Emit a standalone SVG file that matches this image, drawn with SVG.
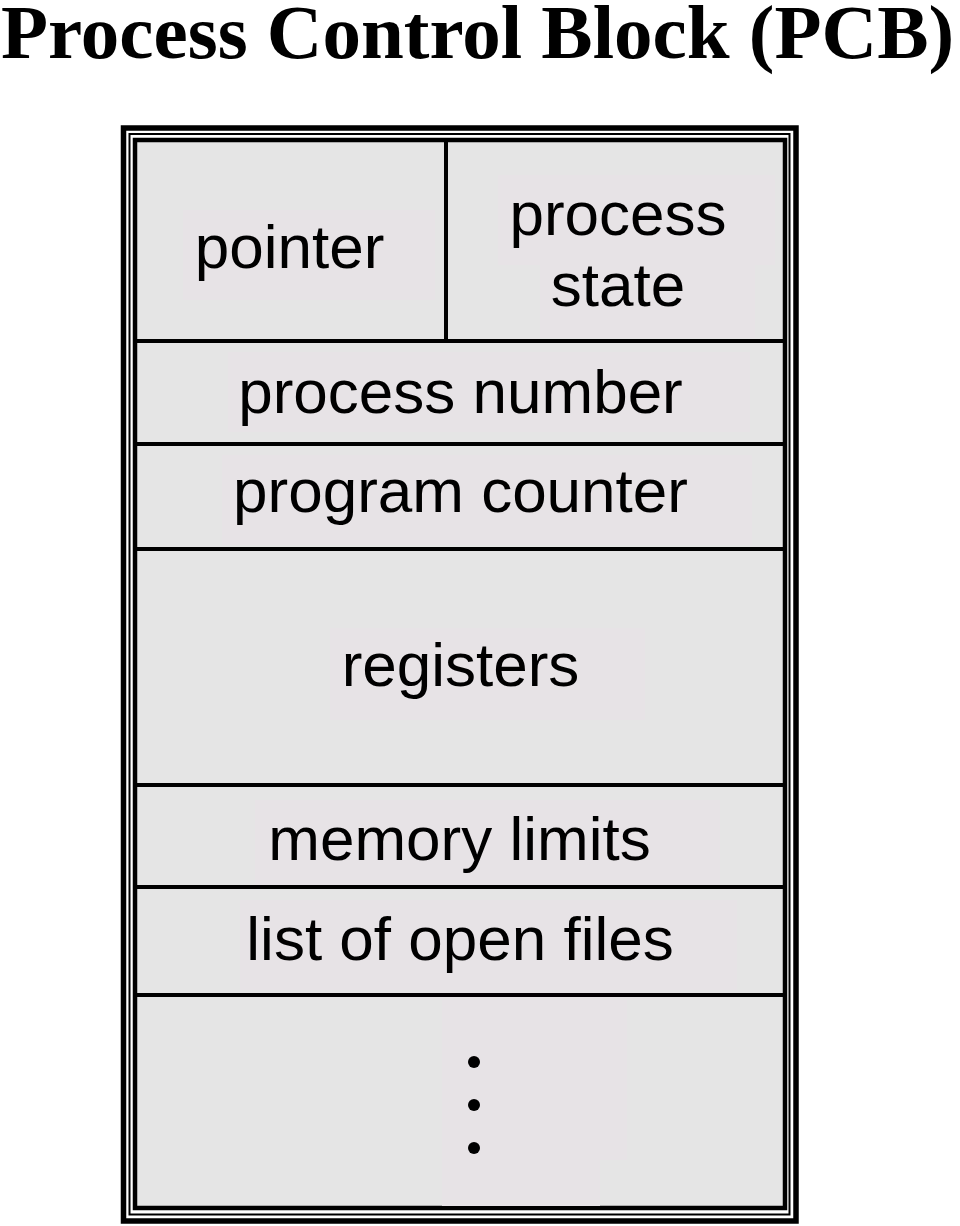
<svg xmlns="http://www.w3.org/2000/svg" width="960" height="1226" viewBox="0 0 960 1226">
  <style>
    .title { font-family: "Liberation Serif", "Times New Roman", serif; font-weight: bold; font-size: 77px; fill: #000; }
    .lbl { font-family: "Liberation Sans", Arial, sans-serif; font-size: 62px; fill: #000; text-anchor: middle; }
    .hl { fill: #e7e3e6; }
    .div { stroke: #000; stroke-width: 4; fill: none; }
  </style>
  <rect x="0" y="0" width="960" height="1226" fill="#fff"/>
  <text class="title" x="1" y="58">Process Control Block (PCB)</text>

  <g id="frame">
    <rect x="123.5" y="128" width="672.5" height="1093" fill="none" stroke="#000" stroke-width="5.5"/>
    <rect x="129.5" y="134" width="660" height="1080.5" fill="none" stroke="#000" stroke-width="2"/>
    <rect x="135" y="140" width="650" height="1068" fill="#e5e5e5" stroke="#000" stroke-width="4.5"/>
  </g>

  <g id="highlights">
    <rect class="hl" x="183" y="210" width="252" height="90"/>
    <rect class="hl" x="498" y="175" width="277" height="90"/>
    <rect class="hl" x="540" y="265" width="215" height="73"/>
    <rect class="hl" x="228" y="352" width="522" height="80"/>
    <rect class="hl" x="222" y="455" width="530" height="90"/>
    <rect class="hl" x="330" y="628" width="315" height="92"/>
    <rect class="hl" x="255" y="800" width="465" height="85"/>
    <rect class="hl" x="240" y="900" width="497" height="90"/>
    <rect class="hl" x="442" y="1000" width="185" height="160"/>
    <rect class="hl" x="442" y="1160" width="158" height="46"/>
  </g>

  <g id="connectors">
    <line class="div" x1="446" y1="140" x2="446" y2="341"/>
    <line class="div" x1="135" y1="341" x2="785" y2="341"/>
    <line class="div" x1="135" y1="444" x2="785" y2="444"/>
    <line class="div" x1="135" y1="549" x2="785" y2="549"/>
    <line class="div" x1="135" y1="785" x2="785" y2="785"/>
    <line class="div" x1="135" y1="887" x2="785" y2="887"/>
    <line class="div" x1="135" y1="995" x2="785" y2="995"/>
  </g>

  <g id="pointer"><text class="lbl" x="289.5" y="268">pointer</text></g>
  <g id="process-state">
    <text class="lbl" x="618" y="235">process</text>
    <text class="lbl" x="618" y="306">state</text>
  </g>
  <g id="process-number"><text class="lbl" x="460.5" y="413">process number</text></g>
  <g id="program-counter"><text class="lbl" x="460.5" y="512">program counter</text></g>
  <g id="registers"><text class="lbl" x="460.5" y="686">registers</text></g>
  <g id="memory-limits"><text class="lbl" x="459.5" y="860">memory limits</text></g>
  <g id="open-files"><text class="lbl" x="460" y="960">list of open files</text></g>
  <g id="ellipsis">
    <circle cx="474" cy="1062" r="6"/>
    <circle cx="474" cy="1105" r="6"/>
    <circle cx="474" cy="1148" r="6"/>
  </g>
</svg>
